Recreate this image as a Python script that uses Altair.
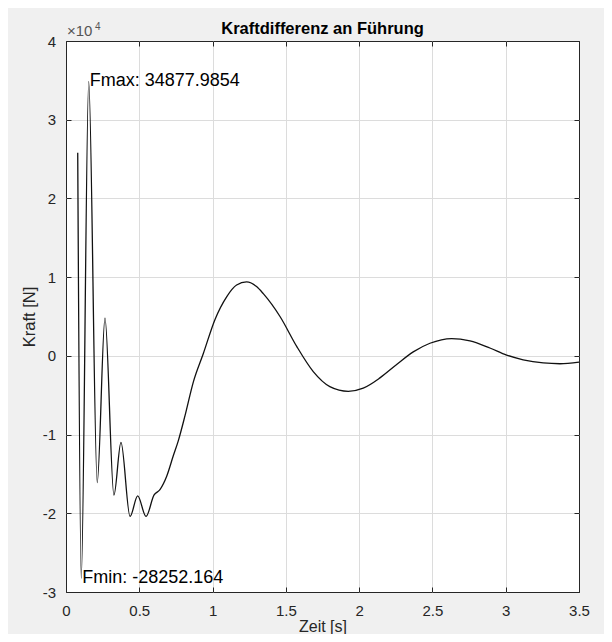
import altair as alt
import pandas as pd

FONT = "Liberation Sans"

# ---- data ----
time_s = [0.080, 0.104, 0.155, 0.213, 0.266, 0.327, 0.375, 0.437, 0.489, 0.546,
          0.600, 0.641, 0.687, 0.732, 0.766, 0.812, 0.869, 0.937, 1.016, 1.096,
          1.164, 1.232, 1.300, 1.346, 1.460, 1.574, 1.687, 1.800, 1.926, 2.028,
          2.142, 2.256, 2.369, 2.483, 2.631, 2.756, 2.892, 3.006, 3.119, 3.256,
          3.370, 3.500]
force_N = [25800, -28252.164, 34877.9854, -16100, 4800, -17700, -11000, -20400, -17800, -20400,
           -17700, -17000, -15300, -12700, -10800, -7600, -3300, 300, 4600, 7500,
           9000, 9400, 8800, 7900, 5000, 1200, -2000, -3900, -4500, -4100,
           -2800, -1100, 500, 1600, 2200, 1900, 1000, 100, -500, -900,
           -1000, -800]

x_ticks = [0, 0.5, 1, 1.5, 2, 2.5, 3, 3.5]
y_ticks = [-30000, -20000, -10000, 0, 10000, 20000, 30000, 40000]

ann_t = [0.155, 0.104]
ann_F = [34877.9854, -28252.164]
ann_labels = ["Fmax: 34877.9854", "Fmin: -28252.164"]

chart_title = "Kraftdifferenz an Führung"
x_title = "Zeit [s]"
y_title = "Kraft [N]"
exp_base = "\u00d710"
exp_power = "4"

# ---- tables ----
df = pd.DataFrame({"t": time_s, "F": force_N})
ann = pd.DataFrame({"t": ann_t, "F": ann_F, "label": ann_labels})
corner = pd.DataFrame({"t": [x_ticks[0]], "F": [y_ticks[-1]]})

AX = "#262626"
TICK_IN = {"expr": "-5"}
xscale = alt.Scale(domain=[x_ticks[0], x_ticks[-1]], nice=False, zero=False)
yscale = alt.Scale(domain=[y_ticks[0], y_ticks[-1]], nice=False, zero=False)

grid_x_op = {"condition": {"test": "datum.value <= 0 || datum.value >= 3.5", "value": 0}, "value": 1}
grid_y_op = {"condition": {"test": "datum.value <= -30000 || datum.value >= 40000", "value": 0}, "value": 1}

bottom_axis = alt.Axis(orient="bottom", values=x_ticks, labelExpr="'' + datum.value",
                       grid=True, gridColor="#dcdcdc", gridOpacity=grid_x_op, domain=False,
                       ticks=True, tickSize=TICK_IN, tickColor=AX, labelPadding=16.5,
                       labelFont=FONT, labelFontSize=15, labelColor=AX, labelFlush=False,
                       labelOverlap=False, title=x_title, titleFont=FONT, titleFontSize=16,
                       titleFontWeight="normal", titleColor=AX, titlePadding=0)
left_axis = alt.Axis(orient="left", values=y_ticks, labelExpr="'' + (datum.value / 10000)",
                     grid=True, gridColor="#dcdcdc", gridOpacity=grid_y_op, domain=False,
                     ticks=True, tickSize=TICK_IN, tickColor=AX, labelPadding=15.5,
                     labelFont=FONT, labelFontSize=15, labelColor=AX, labelFlush=False,
                     labelOverlap=False, title=y_title, titleFont=FONT, titleFontSize=16.5,
                     titleFontWeight="normal", titleColor=AX, titlePadding=4.5)
top_axis = alt.Axis(orient="top", values=x_ticks, labels=False, grid=False, domain=False,
                    ticks=True, tickSize=TICK_IN, tickColor=AX, title=None)
right_axis = alt.Axis(orient="right", values=y_ticks, labels=False, grid=False, domain=False,
                      ticks=True, tickSize=TICK_IN, tickColor=AX, title=None)

line = alt.Chart(df).mark_line(color="#111111", strokeWidth=1.3, interpolate="monotone").encode(
    x=alt.X("t:Q", scale=xscale, axis=bottom_axis),
    y=alt.Y("F:Q", scale=yscale, axis=left_axis),
)
frame_axes = alt.Chart(df).mark_line(opacity=0).encode(
    x=alt.X("t:Q", scale=xscale, axis=top_axis),
    y=alt.Y("F:Q", scale=yscale, axis=right_axis),
)
labels = alt.Chart(ann).mark_text(align="left", baseline="middle", dx=1, font=FONT,
                                  fontSize=18, color="black").encode(
    x=alt.X("t:Q", scale=xscale, axis=None),
    y=alt.Y("F:Q", scale=yscale, axis=None),
    text="label:N",
)
exp1 = alt.Chart(corner).mark_text(align="left", baseline="alphabetic", dx=1, dy=-5, font=FONT,
                                   fontSize=15, color="#555555", text=exp_base).encode(
    x=alt.X("t:Q", scale=xscale, axis=None),
    y=alt.Y("F:Q", scale=yscale, axis=None),
)
exp2 = alt.Chart(corner).mark_text(align="left", baseline="alphabetic", dx=29, dy=-11, font=FONT,
                                   fontSize=10, color="#555555", text=exp_power).encode(
    x=alt.X("t:Q", scale=xscale, axis=None),
    y=alt.Y("F:Q", scale=yscale, axis=None),
)

chart = alt.layer(line, frame_axes, labels, exp1, exp2).resolve_axis(
    x="independent", y="independent"
).properties(
    width=513, height=551,
    title=alt.TitleParams(chart_title, font=FONT, fontSize=16.5, fontWeight="bold",
                          color="black", anchor="middle", frame="group", offset=4, dy=19),
    padding={"left": 58, "top": 33, "right": 25, "bottom": 42},
    autosize=alt.AutoSizeParams(type="none"),
    background="#f0f0f0",
).configure_view(fill="white", stroke=AX, strokeWidth=1)

chart.save("out.html", embed_options={"renderer": "svg", "actions": False})
